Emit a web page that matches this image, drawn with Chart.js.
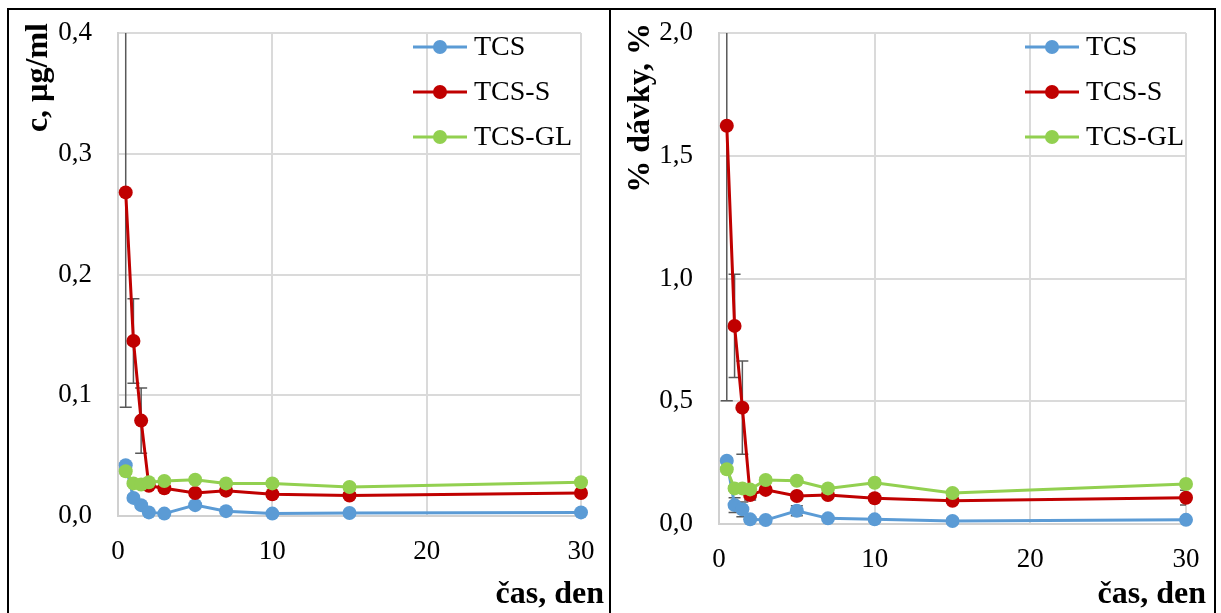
<!DOCTYPE html>
<html>
<head>
<meta charset="utf-8">
<script src="https://cdn.jsdelivr.net/npm/chart.js@4.4.0/dist/chart.umd.min.js"></script>
<style>
  body { margin: 0; background: #fff; }
  #page { position: relative; width: 1221px; height: 613px; overflow: hidden; background: #fff; }
  .frame { position: absolute; border: 2px solid #000; border-bottom: none; }
  .panel { position: absolute; top: 0; height: 613px; }
</style>
</head>
<body>
<div id="page">
  <div class="frame" style="left:7px; top:8px; width:600px; height:620px;"></div>
  <div class="frame" style="left:609px; top:8px; width:603px; height:620px;"></div>
  <div class="panel" style="left:0; width:610px;"><canvas id="concChart" width="610" height="613"></canvas></div>
  <div class="panel" style="left:612px; width:609px;"><canvas id="doseChart" width="609" height="613"></canvas></div>
</div>
<script>
const days = [0.5, 1, 1.5, 2, 3, 5, 7, 10, 15, 30];
const seriesLabels = ['TCS', 'TCS-S', 'TCS-GL'];
const seriesColors = ['#5B9BD5', '#C00000', '#92D050'];
const xTickLabels = ['0', '10', '20', '30'];

// left: c, µg/ml
const concTCS    = [0.042, 0.015, 0.009, 0.003, 0.002, 0.009, 0.004, 0.002, 0.0025, 0.003];
const concTCSS   = [0.268, 0.145, 0.079, 0.025, 0.023, 0.019, 0.021, 0.018, 0.017, 0.019];
const concTCSGL  = [0.037, 0.027, 0.026, 0.028, 0.029, 0.030, 0.027, 0.027, 0.024, 0.028];
const concErrTCS   = [0.002, 0.002, 0.002, 0.001, 0.001, 0.002, 0.001, 0.001, 0.001, 0.001];
const concErrTCSS  = [0.178, 0.035, 0.027, 0.002, 0.002, 0.002, 0.002, 0.002, 0.002, 0.002];
const concErrTCSGL = [0.002, 0.002, 0.002, 0.002, 0.002, 0.002, 0.002, 0.002, 0.002, 0.002];
const concTickLabels = ['0,0', '0,1', '0,2', '0,3', '0,4'];

// right: % dávky
const doseTCS    = [0.258, 0.077, 0.060, 0.019, 0.016, 0.054, 0.023, 0.019, 0.012, 0.017];
const doseTCSS   = [1.622, 0.807, 0.474, 0.118, 0.139, 0.114, 0.118, 0.105, 0.095, 0.107];
const doseTCSGL  = [0.223, 0.145, 0.145, 0.141, 0.179, 0.176, 0.145, 0.168, 0.126, 0.163];
const doseErrTCS   = [0.01, 0.03, 0.03, 0.01, 0.01, 0.02, 0.01, 0.01, 0.01, 0.01];
const doseErrTCSS  = [1.12, 0.21, 0.19, 0.02, 0.01, 0.01, 0.01, 0.01, 0.01, 0.03];
const doseErrTCSGL = [0.01, 0.01, 0.01, 0.01, 0.01, 0.01, 0.01, 0.01, 0.01, 0.01];
const doseTickLabels = ['0,0', '0,5', '1,0', '1,5', '2,0'];

Chart.defaults.font.family = '"Liberation Serif", "Times New Roman", serif';
Chart.defaults.color = '#000';

// error bars, drawn under the lines
const errorBars = {
  id: 'errorBars',
  beforeDatasetsDraw(chart) {
    const { ctx, chartArea, scales } = chart;
    ctx.save();
    ctx.beginPath();
    ctx.rect(chartArea.left, chartArea.top, chartArea.right - chartArea.left, chartArea.bottom - chartArea.top);
    ctx.clip();
    ctx.strokeStyle = '#595959';
    ctx.lineWidth = 1.5;
    chart.data.datasets.forEach(ds => {
      ds.data.forEach((v, i) => {
        const e = ds.errors[i];
        if (!e) return;
        const x = scales.x.getPixelForValue(days[i]);
        const lo = scales.y.getPixelForValue(v - e);
        const hi = scales.y.getPixelForValue(v + e);
        ctx.beginPath();
        ctx.moveTo(x, lo); ctx.lineTo(x, hi);
        ctx.moveTo(x - 6, lo); ctx.lineTo(x + 6, lo);
        ctx.moveTo(x - 6, hi); ctx.lineTo(x + 6, hi);
        ctx.stroke();
      });
    });
    ctx.restore();
  }
};

const axisTitles = {
  id: 'axisTitles',
  afterDraw(chart, args, opts) {
    const ctx = chart.ctx;
    ctx.save();
    ctx.fillStyle = '#000';
    ctx.font = 'bold 32px "Liberation Serif"';
    ctx.textBaseline = 'middle';
    ctx.textAlign = 'right';
    ctx.fillText(opts.xText, opts.xRight, opts.xMid);
    ctx.translate(opts.yMid, opts.yTop);
    ctx.rotate(-Math.PI / 2);
    ctx.fillText(opts.yText, 0, 0);
    ctx.restore();
  }
};

// legend: line + dot sample, like the office chart
const lineLegend = {
  id: 'lineLegend',
  afterDraw(chart, args, opts) {
    const ctx = chart.ctx;
    ctx.save();
    ctx.font = '28px "Liberation Serif"';
    ctx.textBaseline = 'middle';
    ctx.textAlign = 'left';
    chart.data.datasets.forEach((ds, i) => {
      const y = opts.top + i * opts.gap;
      ctx.strokeStyle = ds.borderColor;
      ctx.lineWidth = 3;
      ctx.beginPath();
      ctx.moveTo(opts.left, y);
      ctx.lineTo(opts.left + 54, y);
      ctx.stroke();
      ctx.fillStyle = ds.borderColor;
      ctx.beginPath();
      ctx.arc(opts.left + 27, y, 7, 0, Math.PI * 2);
      ctx.fill();
      ctx.fillStyle = '#000';
      ctx.fillText(ds.label, opts.left + 61, y + 1);
    });
    ctx.restore();
  }
};

function makeDataset(i, values, errors) {
  return {
    label: seriesLabels[i],
    data: values,
    errors: errors,
    borderColor: seriesColors[i],
    backgroundColor: seriesColors[i],
    borderWidth: 3,
    pointRadius: 7,
    pointBorderWidth: 0,
    pointBackgroundColor: seriesColors[i],
    tension: 0,
    clip: false,
    order: 2 - i
  };
}

function buildChart(id, sets, yMax, yStep, yLabels, lay) {
  const ctx = document.getElementById(id).getContext('2d');
  return new Chart(ctx, {
    type: 'line',
    data: { labels: days, datasets: sets },
    options: {
      responsive: false,
      animation: false,
      events: [],
      layout: { padding: { top: 33, right: lay.right, left: 0, bottom: 0 } },
      plugins: {
        legend: { display: false },
        tooltip: { enabled: false },
        axisTitles: lay.titles,
        lineLegend: { left: 413, top: 47, gap: 45 }
      },
      scales: {
        x: {
          type: 'linear',
          min: 0,
          max: 30,
          ticks: {
            stepSize: 10,
            padding: 20,
            maxRotation: 0,
            color: '#000',
            font: { size: 27 },
            callback: (v, i) => xTickLabels[i]
          },
          grid: { color: '#dadada', lineWidth: 2, drawTicks: false },
          border: { display: true, color: '#d0d0d0', width: 2 },
          afterFit: s => {
            s.height = lay.xHeight;
            s.paddingLeft = 0;
            s.paddingRight = 0;
          }
        },
        y: {
          min: 0,
          max: yMax,
          ticks: {
            stepSize: yStep,
            padding: 26,
            color: '#000',
            font: { size: 27 },
            callback: (v, i) => yLabels[i]
          },
          grid: { color: '#dadada', lineWidth: 2, drawTicks: false },
          border: { display: true, color: '#d0d0d0', width: 2 },
          afterFit: s => {
            s.width = lay.yWidth;
            s.paddingTop = 0;
            s.paddingBottom = 0;
          }
        }
      }
    },
    plugins: [errorBars, axisTitles, lineLegend]
  });
}

buildChart('concChart', [
  makeDataset(0, concTCS, concErrTCS),
  makeDataset(1, concTCSS, concErrTCSS),
  makeDataset(2, concTCSGL, concErrTCSGL)
], 0.4, 0.1, concTickLabels, {
  right: 29, yWidth: 118, xHeight: 97,
  titles: { xText: 'čas, den', xRight: 604, xMid: 595, yText: 'c, µg/ml', yMid: 39, yTop: 23 }
});

buildChart('doseChart', [
  makeDataset(0, doseTCS, doseErrTCS),
  makeDataset(1, doseTCSS, doseErrTCSS),
  makeDataset(2, doseTCSGL, doseErrTCSGL)
], 2.0, 0.5, doseTickLabels, {
  right: 35, yWidth: 107, xHeight: 89,
  titles: { xText: 'čas, den', xRight: 594, xMid: 595, yText: '% dávky, %', yMid: 29, yTop: 23 }
});
</script>
</body>
</html>
